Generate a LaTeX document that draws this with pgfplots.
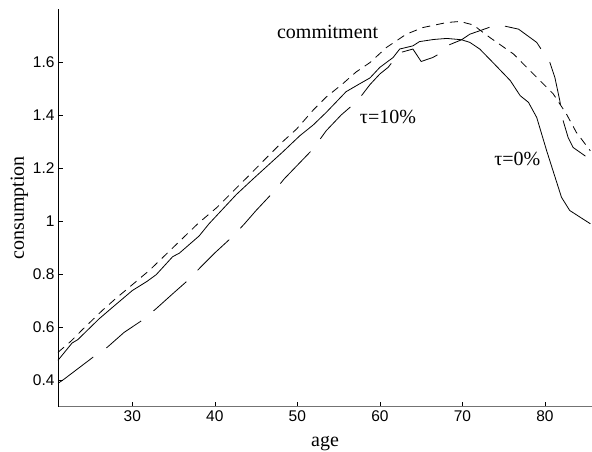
\documentclass[border=0pt]{standalone}
\usepackage{fontspec}
\setmainfont{Liberation Serif}
\setsansfont{Liberation Sans}
\usepackage{pgfplots}
\pgfplotsset{compat=1.18}
\begin{document}
\begin{tikzpicture}
\useasboundingbox (-58pt,-45.3pt) rectangle (534pt,406.7pt);
\begin{axis}[
 at={(0,0)}, anchor=south west,
 scale only axis, width=534pt, height=397.7pt,
 xmin=21, xmax=85.7, ymin=0.3, ymax=1.8,
 axis x line*=bottom, axis y line*=left,
 x axis line style={-, line width=1.3pt, black!55},
 y axis line style={-, line width=0.7pt},
 xtick={30,40,50,60,70,80},
 ytick={0.4,0.6,0.8,1,1.2,1.4,1.6},
 tick align=inside, major tick length=5pt,
 tick style={black, line width=0.6pt},
 ticklabel style={font=\sffamily\fontsize{15.5}{18}\selectfont},
 /pgf/number format/assume math mode=true,
 xlabel={age}, ylabel={consumption},
 label style={font=\fontsize{20}{24}\selectfont},
 xlabel style={at={([yshift=-40pt]axis description cs:0.5,0)}, anchor=base},
 ylabel style={at={([xshift=-34pt]axis description cs:0,0.5)}, anchor=base},
 clip=false,
]
% commitment
\addplot[black, line width=0.8pt, dash pattern=on 8pt off 6pt] coordinates {
(21,0.505) (22.6,0.548) (24,0.592) (26.4,0.664) (28,0.708) (30,0.76) (32.1,0.815)
(34,0.872) (36.1,0.935) (38,0.992) (40.2,1.05) (42.2,1.112) (44.2,1.174) (46.2,1.237)
(48.2,1.299) (49.9,1.347) (51.9,1.418) (53.5,1.468) (55.5,1.518) (57.1,1.562) (58.8,1.598)
(60.8,1.655) (63.2,1.705) (65.2,1.73) (68.1,1.749) (69.7,1.753) (71.3,1.74) (73.3,1.693)
(76.2,1.63) (78.2,1.567) (81,1.48) (82.6,1.404) (83.8,1.335) (85.5,1.265)
};
% tau = 0%
\addplot[black, line width=0.8pt] coordinates {
(21,0.475) (22.7,0.54) (23.4,0.553) (26,0.632) (27.5,0.672) (30,0.738) (31.8,0.773)
(32.9,0.798) (34.9,0.866) (35.7,0.879) (38.1,0.944) (39.3,0.99) (42.6,1.1) (44.6,1.158)
(48.2,1.26) (50.3,1.322) (51.9,1.362) (53.5,1.41) (55.1,1.462) (55.9,1.488) (57.5,1.517)
(58.8,1.54) (60,1.58) (61.6,1.617) (62.4,1.649) (64,1.661) (64.8,1.677) (66.5,1.685) (68.1,1.689)
(69.9,1.684) (70.9,1.674) (72.1,1.649) (73.7,1.598) (75.8,1.53) (77,1.473) (78,1.448)
(79,1.391) (80.2,1.266) (82,1.09) (83,1.04) (85.5,0.99)
};
% tau = 10%
\addplot[black, line width=0.8pt, dash pattern=on 44pt off 16pt] coordinates {
(21,0.388) (21.7,0.403) (25.3,0.488) (27,0.525) (29,0.58) (31.2,0.626) (32.9,0.67)
(34.9,0.726) (36.9,0.781) (38.3,0.827) (40,0.88) (42.2,0.943) (43.6,0.99) (45,1.04)
(47.2,1.113) (48.4,1.159) (51.9,1.272) (53.5,1.341) (55.3,1.4) (57.3,1.454) (58.8,1.515)
(60,1.555) (61,1.58) (62.4,1.635) (64,1.649) (65,1.602) (66.4,1.617) (67.5,1.636)
(68.1,1.661) (69.9,1.684) (70.9,1.705) (72.1,1.718) (74.1,1.74) (74.9,1.737) (76.8,1.724)
(79,1.674) (80.6,1.598) (81.2,1.542) (81.8,1.454) (82.2,1.379) (82.8,1.316) (83.4,1.278)
(85.5,1.232)
};
\node[anchor=base, font=\fontsize{20}{24}\selectfont] at (axis cs:53.67,1.687) {commitment};
\node[anchor=base, font=\fontsize{20}{24}\selectfont] at (axis cs:60.98,1.368) {τ=10\%};
\node[anchor=base, font=\fontsize{20}{24}\selectfont] at (axis cs:76.66,1.21) {τ=0\%};
\end{axis}
\end{tikzpicture}
\end{document}
